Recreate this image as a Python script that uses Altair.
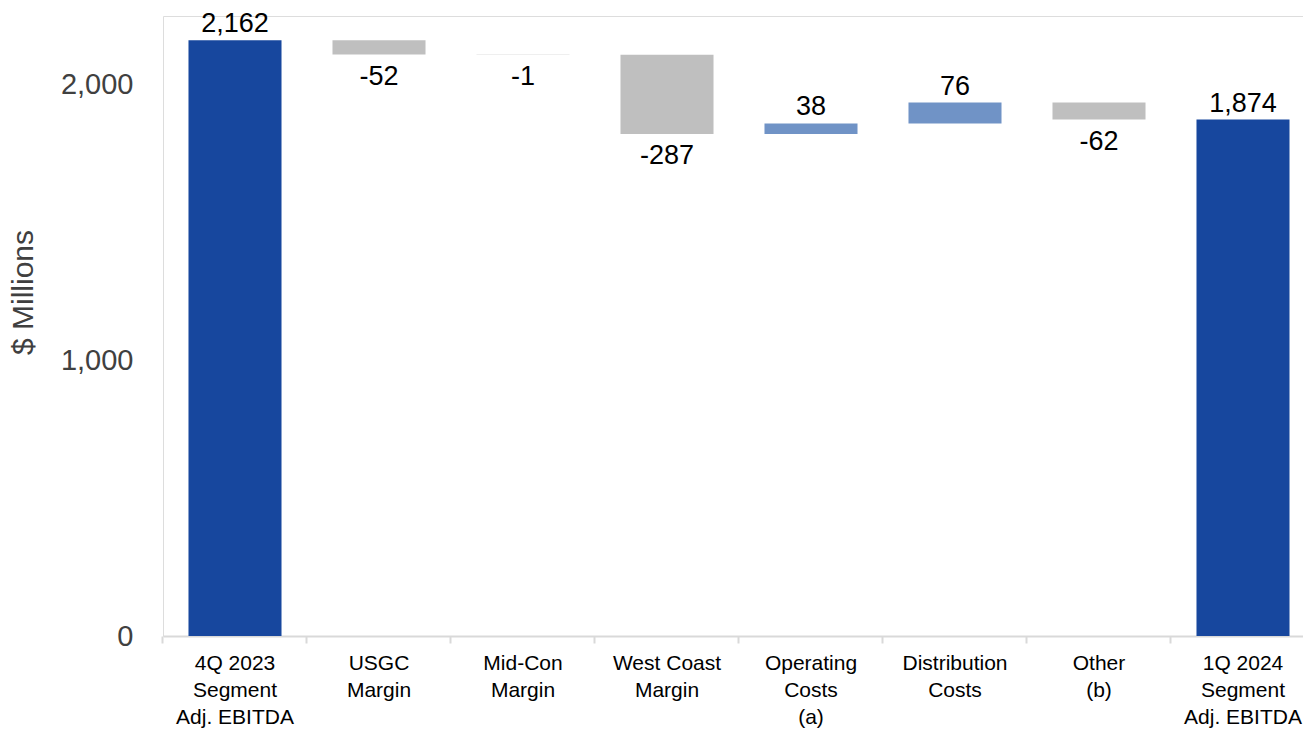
import altair as alt
import pandas as pd

categories = ["4Q 2023\nSegment\nAdj. EBITDA", "USGC\nMargin", "Mid-Con\nMargin", "West Coast\nMargin",
              "Operating\nCosts\n(a)", "Distribution\nCosts", "Other\n(b)", "1Q 2024\nSegment\nAdj. EBITDA"]
values = [2162, -52, -1, -287, 38, 76, -62, 1874]
kinds = ["total", "delta", "delta", "delta", "delta", "delta", "delta", "total"]
value_labels = ["2,162", "-52", "-1", "-287", "38", "76", "-62", "1,874"]

rows = []
running = 0
for cat, v, k, lab in zip(categories, values, kinds, value_labels):
    if k == "total":
        start, end = 0, v
        running = v
        kind = "total"
    else:
        start = running
        end = running + v
        running = end
        kind = "increase" if v > 0 else "decrease"
    top = max(start, end)
    bottom = min(start, end)
    rows.append(dict(cat=cat, start=start, end=end, kind=kind, label=lab,
                     above=top if kind != "decrease" else None,
                     below=bottom if kind == "decrease" else None))
df = pd.DataFrame(rows)

color_scale = alt.Scale(domain=["total", "increase", "decrease"],
                        range=["#17479E", "#7093C6", "#BFBFBF"])
yscale = alt.Scale(domain=[0, 2250], nice=False)
xscale = alt.Scale(paddingInner=0.354, paddingOuter=0.177, range=[0, 1152])
FONT = "Liberation Sans"

x = alt.X("cat:N", sort=categories, title=None, scale=xscale,
          axis=alt.Axis(labelExpr="split(datum.label, '\\n')", labelAngle=0,
                        labelFontSize=21, labelLineHeight=27, labelColor="#000000",
                        labelFont=FONT, labelPadding=9, labelBaseline="top",
                        bandPosition=-0.274, tickSize=7, tickColor="#D9D9D9",
                        tickWidth=2, domainColor="#D9D9D9", domainWidth=2, grid=False,
                        gridOpacity=0))

yaxis = alt.Axis(values=[0, 1000, 2000], labelExpr="format(datum.value, ',')",
                 domain=False, domainOpacity=0, domainColor="transparent",
                 ticks=False, grid=False, gridOpacity=0,
                 labelFontSize=29, labelFont=FONT, labelColor="#404040",
                 labelPadding=30, titleFontSize=30, titleFont=FONT, titleY=276,
                 titleFontWeight="normal", titleColor="#404040", titlePadding=22)

bars = alt.Chart(df).mark_bar().encode(
    x=x,
    y=alt.Y("start:Q", scale=yscale, title="$ Millions", axis=yaxis),
    y2="end:Q",
    color=alt.Color("kind:N", scale=color_scale, legend=None),
)

xt = alt.X("cat:N", sort=categories, scale=xscale)

above = alt.Chart(df).transform_filter("datum.above != null").mark_text(
    fontSize=27, font=FONT, color="#000000", baseline="alphabetic", dy=-8
).encode(x=xt, y=alt.Y("above:Q", scale=yscale, title="$ Millions", axis=yaxis), text="label:N")

below = alt.Chart(df).transform_filter("datum.below != null").mark_text(
    fontSize=27, font=FONT, color="#000000", baseline="alphabetic", dy=30
).encode(x=xt, y=alt.Y("below:Q", scale=yscale, title="$ Millions", axis=yaxis), text="label:N")

chart = (bars + above + below).properties(
    width=1140, height=620,
    autosize=alt.AutoSizeParams(type="none"),
    padding={"left": 163, "top": 16, "right": 0, "bottom": 94},
).configure_view(stroke="transparent", strokeWidth=0, strokeOpacity=0).configure_axis(
    grid=False, gridOpacity=0
).configure_axisY(domain=False, domainOpacity=0).configure_axisLeft(
    domain=False, domainOpacity=0
).configure_axisX(gridOpacity=0).configure_axisBand(gridOpacity=0).configure(background="white")

chart.save("out.html", embed_options={"renderer": "svg", "actions": False})
